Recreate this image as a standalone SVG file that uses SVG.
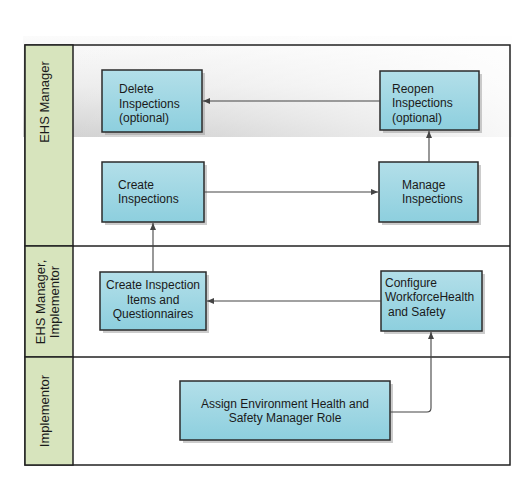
<svg xmlns="http://www.w3.org/2000/svg" width="530" height="491" viewBox="0 0 530 491">
<defs>
<linearGradient id="nodeFill" x1="0" y1="0" x2="0" y2="1">
<stop offset="0" stop-color="#b3dfe9"/>
<stop offset="1" stop-color="#8dcfde"/>
</linearGradient>
<linearGradient id="bandV" x1="0" y1="0" x2="0" y2="1">
<stop offset="0" stop-color="#fbfbfb"/>
<stop offset="0.5" stop-color="#ececec"/>
<stop offset="1" stop-color="#d0d0d0"/>
</linearGradient>
<linearGradient id="bandH" x1="0" y1="0" x2="1" y2="0">
<stop offset="0" stop-color="#ffffff" stop-opacity="0"/>
<stop offset="0.4" stop-color="#ffffff" stop-opacity="0.2"/>
<stop offset="1" stop-color="#ffffff" stop-opacity="0.85"/>
</linearGradient>
<marker id="arr" markerWidth="8" markerHeight="8" refX="7" refY="4" orient="auto" markerUnits="userSpaceOnUse">
<path d="M0,1 L7,4 L0,7 Z" fill="#444"/>
</marker>
<style>
.node rect.box{fill:url(#nodeFill);stroke:#2b2b2b;stroke-width:1.5}
.node rect.sh{fill:#9a9a9a;opacity:0.5}
.t{font-family:"Liberation Sans",Arial,sans-serif;font-size:12px;fill:#1a1a1a}
.lt{font-size:13px}
.c{text-anchor:middle}
.lane{fill:none;stroke:#222;stroke-width:1.5}
.lab{fill:#d7e4bd;stroke:#222;stroke-width:1.5}
.conn path{fill:none;stroke:#444;stroke-width:1.1}
</style>
</defs>
<rect width="530" height="491" fill="#ffffff"/>
<rect x="23" y="36" width="489" height="101" fill="url(#bandV)"/>
<rect x="23" y="36" width="489" height="101" fill="url(#bandH)"/>
<g id="lanes">
<rect class="lane" x="25" y="45" width="485" height="420"/>
<line class="lane" x1="25" y1="246" x2="510" y2="246"/>
<line class="lane" x1="25" y1="357" x2="510" y2="357"/>
<rect class="lab" x="25" y="45" width="48" height="201"/>
<rect class="lab" x="25" y="246" width="48" height="111"/>
<rect class="lab" x="25" y="357" width="48" height="108"/>
<text class="t lt c" transform="translate(49,102) rotate(-90)">EHS Manager</text>
<text class="t lt c" transform="translate(45,302) rotate(-90)">EHS Manager,</text>
<text class="t lt c" transform="translate(59,302) rotate(-90)">Implementor</text>
<text class="t lt c" transform="translate(49,411) rotate(-90)">Implementor</text>
</g>
<g id="n_delete" class="node">
<rect class="sh" x="105" y="73" width="100" height="62"/>
<rect class="box" x="102" y="70" width="100" height="62"/>
<text class="t" x="119" y="93">Delete</text>
<text class="t" x="119" y="108">Inspections</text>
<text class="t" x="119" y="122">(optional)</text>
</g>
<g id="n_reopen" class="node">
<rect class="sh" x="383" y="74" width="99" height="59"/>
<rect class="box" x="380" y="71" width="99" height="59"/>
<text class="t" x="392" y="93">Reopen</text>
<text class="t" x="392" y="107">Inspections</text>
<text class="t" x="392" y="122">(optional)</text>
</g>
<g id="n_create" class="node">
<rect class="sh" x="105" y="165" width="102" height="60"/>
<rect class="box" x="102" y="162" width="102" height="60"/>
<text class="t" x="118" y="189">Create</text>
<text class="t" x="118" y="203">Inspections</text>
</g>
<g id="n_manage" class="node">
<rect class="sh" x="382" y="165" width="99" height="60"/>
<rect class="box" x="379" y="162" width="99" height="60"/>
<text class="t" x="402" y="189">Manage</text>
<text class="t" x="402" y="203">Inspections</text>
</g>
<g id="n_items" class="node">
<rect class="sh" x="103" y="275" width="106" height="58"/>
<rect class="box" x="100" y="272" width="106" height="58"/>
<text class="t c" x="153" y="289">Create Inspection</text>
<text class="t c" x="153" y="304">Items and</text>
<text class="t c" x="153" y="318">Questionnaires</text>
</g>
<g id="n_config" class="node">
<rect class="sh" x="384" y="274" width="101" height="60"/>
<rect class="box" x="381" y="271" width="101" height="60"/>
<text class="t" x="385" y="287">Configure</text>
<text class="t" x="385" y="301">WorkforceHealth</text>
<text class="t" x="388" y="316">and Safety</text>
</g>
<g id="n_assign" class="node">
<rect class="sh" x="183" y="384" width="210" height="59"/>
<rect class="box" x="180" y="381" width="210" height="59"/>
<text class="t c" x="285" y="408">Assign Environment Health and</text>
<text class="t c" x="285" y="422">Safety Manager Role</text>
</g>
<g id="connectors" class="conn">
<path d="M380,101 H203" marker-end="url(#arr)"/>
<path d="M204,192 H378" marker-end="url(#arr)"/>
<path d="M429,162 V131" marker-end="url(#arr)"/>
<path d="M153,272 V223" marker-end="url(#arr)"/>
<path d="M381,301 H207" marker-end="url(#arr)"/>
<path d="M390,412 H427 Q431,412 431,408 V332" marker-end="url(#arr)"/>
</g>
</svg>
